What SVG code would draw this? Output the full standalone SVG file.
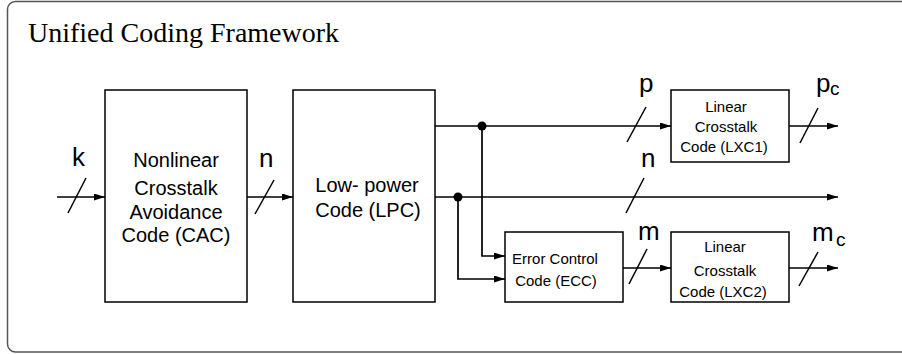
<svg xmlns="http://www.w3.org/2000/svg" width="902" height="354" viewBox="0 0 902 354">
<defs>
<marker id="ah" markerWidth="11" markerHeight="7" refX="11" refY="3.5" orient="auto" markerUnits="userSpaceOnUse">
<path d="M0,0 L11,3.5 L0,7 z" fill="#000"/>
</marker>
<style>
.box{fill:#fff;stroke:#000;stroke-width:1.5}
.ln{fill:none;stroke:#000;stroke-width:1.7}
.ar{fill:none;stroke:#000;stroke-width:1.7;marker-end:url(#ah)}
.sl{stroke:#000;stroke-width:1.5}
.t{font-family:"Liberation Sans",Arial,sans-serif;fill:#000;text-anchor:middle}
.lbl{font-family:"Liberation Sans",Arial,sans-serif;fill:#000;font-size:26px}
.sub{font-family:"Liberation Sans",Arial,sans-serif;fill:#000;font-size:19px}
</style>
</defs>
<rect x="7.5" y="1.5" width="930" height="350.5" rx="8" fill="#fff" stroke="#555" stroke-width="1.5"/>
<text x="28" y="42" font-family="'Liberation Serif','Times New Roman',serif" font-size="28">Unified Coding Framework</text>

<g id="connectors">
<line class="ar" x1="57" y1="197" x2="105" y2="197"/>
<line class="ar" x1="247" y1="197" x2="293" y2="197"/>
<line class="ar" x1="435" y1="126" x2="671" y2="126"/>
<line class="ar" x1="789" y1="126" x2="838" y2="126"/>
<line class="ar" x1="435" y1="197" x2="838" y2="197"/>
<polyline class="ar" points="482,126 482,256 505,256"/>
<polyline class="ar" points="458,197 458,279 505,279"/>
<line class="ar" x1="623" y1="268" x2="671" y2="268"/>
<line class="ar" x1="789" y1="268" x2="838" y2="268"/>
<circle cx="482" cy="126" r="4.5" fill="#000"/>
<circle cx="458" cy="197" r="4.5" fill="#000"/>
<line class="sl" x1="68" y1="213" x2="86" y2="178"/>
<line class="sl" x1="255" y1="214" x2="274" y2="180"/>
<line class="sl" x1="627" y1="142" x2="646" y2="107"/>
<line class="sl" x1="800" y1="143" x2="818" y2="108"/>
<line class="sl" x1="626" y1="213" x2="644" y2="178"/>
<line class="sl" x1="629" y1="284" x2="647" y2="249"/>
<line class="sl" x1="799" y1="286" x2="818" y2="252"/>
<text class="lbl" x="72" y="166">k</text>
<text class="lbl" x="259" y="167">n</text>
<text class="lbl" x="639" y="92">p</text>
<text class="lbl" x="816" y="92">p</text>
<text class="sub" x="830" y="95">c</text>
<text class="lbl" x="641" y="167">n</text>
<text class="lbl" x="638" y="240">m</text>
<text class="lbl" x="812" y="241">m</text>
<text class="sub" x="836" y="246">c</text>
</g>

<g id="cac">
<rect class="box" x="105" y="90" width="142" height="212"/>
<text class="t" font-size="20" x="176" y="167">Nonlinear</text>
<text class="t" font-size="20" x="176" y="195">Crosstalk</text>
<text class="t" font-size="20" x="176" y="219">Avoidance</text>
<text class="t" font-size="20" x="176" y="242">Code (CAC)</text>
</g>

<g id="lpc">
<rect class="box" x="293" y="90" width="142" height="212"/>
<text class="t" font-size="20" x="367" y="192">Low- power</text>
<text class="t" font-size="20" x="368" y="217">Code (LPC)</text>
</g>

<g id="lxc1">
<rect class="box" x="671" y="90" width="118" height="72"/>
<text class="t" font-size="15" x="726" y="112">Linear</text>
<text class="t" font-size="15" x="726" y="132">Crosstalk</text>
<text class="t" font-size="15" x="724" y="152">Code (LXC1)</text>
</g>

<g id="ecc">
<rect class="box" x="505" y="232" width="118" height="70"/>
<text class="t" font-size="15" x="555" y="264">Error Control</text>
<text class="t" font-size="15" x="556" y="286">Code (ECC)</text>
</g>

<g id="lxc2">
<rect class="box" x="671" y="232" width="118" height="70"/>
<text class="t" font-size="15" x="725" y="252">Linear</text>
<text class="t" font-size="15" x="725" y="276">Crosstalk</text>
<text class="t" font-size="15" x="723" y="297">Code (LXC2)</text>
</g>
</svg>
